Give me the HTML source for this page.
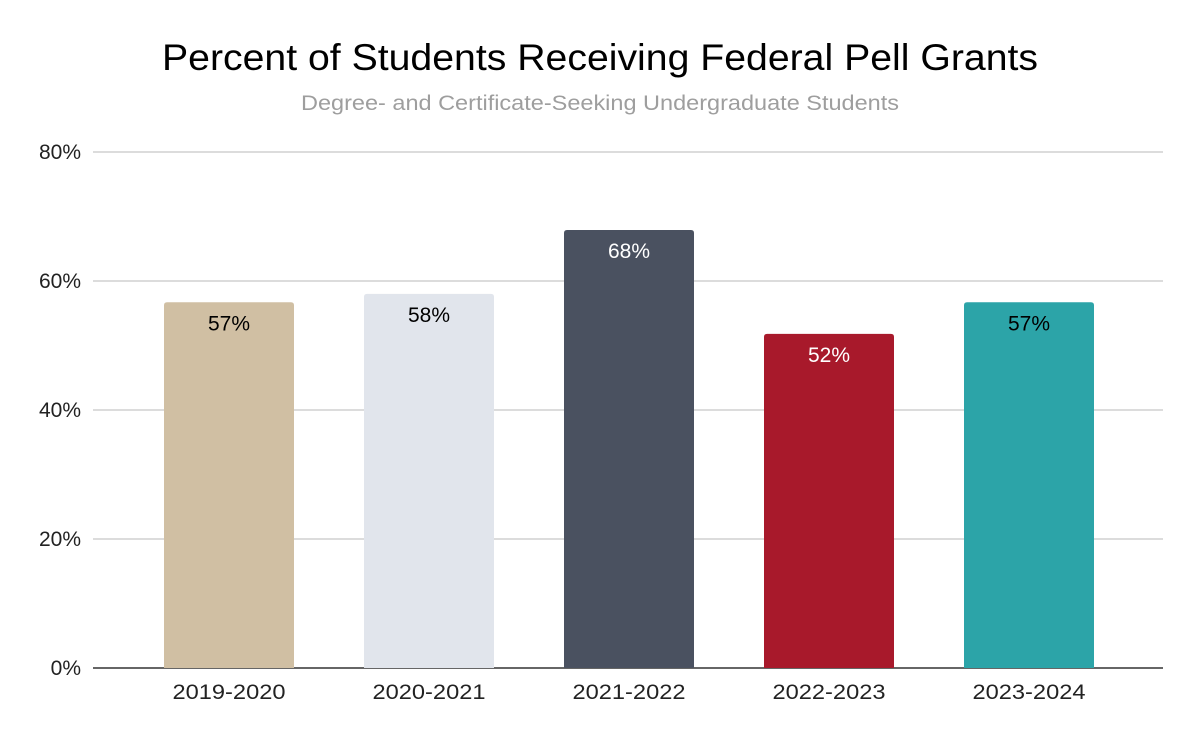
<!DOCTYPE html>
<html><head><meta charset="utf-8"><style>
body{margin:0;background:#fff;font-family:"Liberation Sans",Roboto,sans-serif}
</style></head><body>
<svg id="chart" width="1200" height="742" xmlns="http://www.w3.org/2000/svg" font-family="Liberation Sans, sans-serif">
<rect width="1200" height="742" fill="#fff"/>
<text x="600" y="70" text-anchor="middle" font-size="37" textLength="876" lengthAdjust="spacingAndGlyphs" fill="#000">Percent of Students Receiving Federal Pell Grants</text>
<text x="600" y="110" text-anchor="middle" font-size="21" textLength="598" lengthAdjust="spacingAndGlyphs" fill="#9e9e9e">Degree- and Certificate-Seeking Undergraduate Students</text>
<g id="grid"></g><g id="bars"></g><g id="xlabels"></g>
</svg>
<script>
const categories=["2019-2020","2020-2021","2021-2022","2022-2023","2023-2024"];
const values=[56.7,58,67.9,51.8,56.7];
const valueLabels=["57%","58%","68%","52%","57%"];
const ticks=[0,20,40,60,80];
const tickLabels=["0%","20%","40%","60%","80%"];
const colors=["#d0bfa3","#e1e5ec","#4a5160","#a8192b","#2ca4a8"];
const labelColors=["#000","#000","#fff","#fff","#000"];
const NS="http://www.w3.org/2000/svg";
const y=v=>668-v*(516/80);
const xc=i=>229+i*200;
function mk(t,a,p){const e=document.createElementNS(NS,t);for(const k in a)e.setAttribute(k,a[k]);p.appendChild(e);return e;}
const grid=document.getElementById('grid');
ticks.forEach((t,i)=>{
 const l=mk('line',{x1:93,x2:1163,y1:y(t),y2:y(t),stroke:t===0?'#333':'#c8c8c8','stroke-width':t===0?1.5:1.3},grid);
 
 
 const tx=mk('text',{x:81,y:y(t)+7,'text-anchor':'end','font-size':21,fill:'#222'},grid);
 tx.textContent=tickLabels[i];
 
 
});
const bars=document.getElementById('bars'),xl=document.getElementById('xlabels');
values.forEach((v,i)=>{
 const top=y(v),x=xc(i)-65,r=3;
 const p=mk('path',{d:`M${x},668 V${top+r} Q${x},${top} ${x+r},${top} H${x+130-r} Q${x+130},${top} ${x+130},${top+r} V668 Z`,fill:colors[i]},bars);
 
 
 const t=mk('text',{x:xc(i),y:top+28,'text-anchor':'middle','font-size':21,fill:labelColors[i]},bars);
 t.textContent=valueLabels[i];
 
 
 const c=mk('text',{x:xc(i),y:699,'text-anchor':'middle','font-size':21,textLength:113,lengthAdjust:'spacingAndGlyphs',fill:'#222'},xl);
 c.textContent=categories[i];
 
 
});
</script>
</body></html>
